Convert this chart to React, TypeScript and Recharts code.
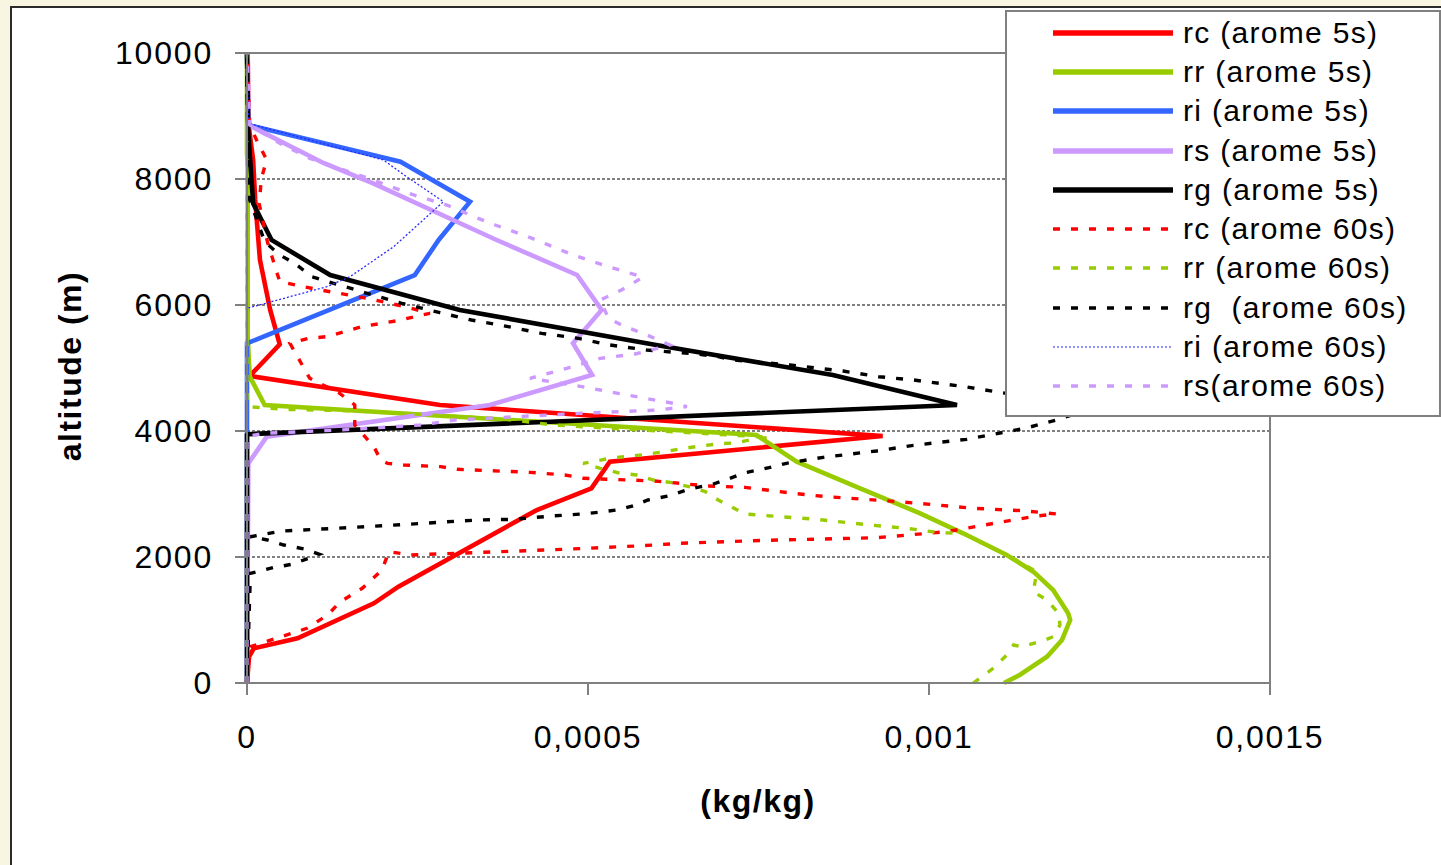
import { LineChart, Line, XAxis, YAxis, CartesianGrid, Legend, ReferenceLine } from 'recharts';

const FONT = '"Liberation Sans", Arial, sans-serif';

// each point: [altitude (m), mixing ratio in 1e-4 kg/kg]
const RC_5S: [number, number][] = [
  [0, 0], [418, 0.03], [551, 0.1], [709, 0.74], [1265, 1.86], [1529, 2.22], [2746, 4.25],
  [3090, 5.05], [3513, 5.32], [3920, 9.32], [4413, 2.83], [4873, 0.04], [5376, 0.48],
  [5921, 0.34], [6714, 0.19], [7667, 0.12], [8302, 0.09], [8884, 0.02], [10000, 0.01],
];
const RR_5S: [number, number][] = [
  [0, 11.1], [127, 11.33], [417, 11.73], [683, 11.95], [1000, 12.07], [1106, 12.04],
  [1476, 11.82], [1767, 11.53], [2032, 11.14], [2376, 10.5], [2693, 9.87], [3090, 8.99],
  [3513, 8.06], [3937, 7.47], [4413, 0.26], [4862, 0.04], [5500, 0.01], [8254, 0.01],
  [8400, 0], [10000, 0],
];
const RI_5S: [number, number][] = [
  [0, 0], [5392, 0], [6476, 2.46], [7032, 2.81], [7640, 3.27], [8275, 2.25], [8857, 0.02], [10000, 0],
];
const RS_5S: [number, number][] = [
  [0, 0], [3487, 0.02], [3910, 0.29], [4413, 3.56], [4889, 5.06], [5392, 4.78], [5921, 5.2],
  [6476, 4.84], [7032, 3.66], [7931, 1.85], [8254, 1.12], [8857, 0.02], [10000, 0.01],
];
const RG_5S: [number, number][] = [
  [0, 0], [3937, 0], [3950, 0.02], [4413, 10.41], [4889, 8.59], [5365, 6.0], [5921, 3.12],
  [6476, 1.22], [7032, 0.36], [7614, 0.09], [8725, 0.02], [10000, 0],
];
const RC_60S: [number, number][] = [
  [0, 0], [500, 0.02], [576, 0.05], [868, 0.88], [1079, 1.18], [1290, 1.37], [1503, 1.69],
  [1794, 1.98], [2084, 2.08], [2032, 2.4], [2074, 3.45], [2127, 4.76], [2180, 5.81],
  [2217, 6.35], [2265, 7.62], [2306, 9.23], [2402, 10.26], [2551, 11.04], [2651, 11.58],
  [2683, 11.87], [2735, 11.38], [2773, 10.65], [2878, 9.57], [2957, 8.5], [3011, 8.01],
  [3063, 7.62], [3106, 7.3], [3127, 6.76], [3206, 5.98], [3249, 4.93], [3302, 4.66],
  [3344, 4.15], [3392, 3.08], [3434, 2.84], [3460, 2.3], [3487, 2.06], [3540, 1.96],
  [3751, 1.86], [4095, 1.58], [4413, 1.58], [4598, 1.36], [4836, 0.92], [5392, 0.63],
  [5471, 0.9], [5497, 1.17], [5655, 1.68], [5751, 2.2], [5868, 2.68], [5973, 2.32],
  [6106, 1.76], [6249, 1.02], [6370, 0.48], [7000, 0.3], [7600, 0.18], [8010, 0.21],
  [8302, 0.29], [8619, 0.14], [8857, 0.04], [10000, 0],
];
const RR_60S: [number, number][] = [
  [0, 10.65], [233, 10.94], [444, 11.14], [603, 11.24], [576, 11.36], [683, 11.7],
  [735, 11.82], [921, 11.92], [1106, 11.9], [1317, 11.73], [1449, 11.53], [1767, 11.58],
  [2032, 11.14], [2376, 10.5], [2386, 10.16], [2455, 9.67], [2508, 9.13], [2598, 8.35],
  [2640, 7.82], [2683, 7.3], [2905, 6.91], [3037, 6.72], [3106, 6.52], [3180, 6.23],
  [3222, 5.96], [3302, 5.71], [3338, 5.44], [3408, 5.18], [3487, 4.93], [3566, 5.32],
  [3630, 5.86], [3672, 6.13], [3725, 6.4], [3794, 6.89], [3814, 7.18], [3868, 7.42],
  [3900, 7.67], [4095, 4.49], [4190, 3.78], [4322, 1.51], [4344, 0.53], [4386, 0.02],
  [4500, 0], [10000, 0],
];
const RG_60S: [number, number][] = [
  [0, 0], [1741, 0.05], [1836, 0.4], [1884, 0.66], [2043, 1.06], [2127, 0.84], [2190, 0.54],
  [2270, 0.3], [2322, 0.05], [2360, 0.25], [2413, 0.52], [2455, 1.3], [2503, 2.11],
  [2535, 2.6], [2556, 2.89], [2587, 3.38], [2598, 3.91], [2651, 4.47], [2688, 4.98],
  [2746, 5.42], [2810, 5.66], [2905, 5.88], [2968, 6.18], [3053, 6.42], [3090, 6.54],
  [3159, 6.84], [3249, 7.08], [3338, 7.3], [3397, 7.57], [3487, 7.91], [3582, 8.45],
  [3683, 9.23], [3772, 9.77], [3868, 10.55], [4043, 11.41], [4175, 11.87], [4400, 12.5],
  [4608, 11.07], [4703, 10.53], [4810, 9.77], [4862, 9.26], [4952, 8.74], [5048, 7.96],
  [5127, 7.13], [5180, 6.91], [5222, 6.59], [5286, 5.86], [5365, 5.32], [5471, 4.86],
  [5550, 4.32], [5656, 3.83], [5762, 3.29], [5878, 2.83], [6027, 2.27], [6186, 1.76],
  [6344, 1.27], [6449, 0.95], [6661, 0.7], [6794, 0.48], [7005, 0.26], [7667, 0.04],
  [8857, 0.02], [10000, 0],
];
const RI_60S: [number, number][] = [
  [0, 0], [5947, 0], [6291, 1.17], [6449, 1.51], [6925, 2.15], [7640, 2.88], [8037, 2.34],
  [8302, 2.0], [8884, 0.02], [10000, 0],
];
const RS_60S: [number, number][] = [
  [0, 0], [3910, 0], [3963, 0.24], [4016, 1.36], [4095, 2.54], [4175, 3.05], [4279, 4.86],
  [4333, 6.01], [4386, 6.45], [4439, 6.25], [4598, 5.44], [4651, 5.18], [4704, 4.91],
  [4836, 4.15], [4995, 4.69], [5153, 5.18], [5222, 5.69], [5365, 6.2], [5550, 5.81],
  [5656, 5.54], [5788, 5.3], [6080, 5.18], [6238, 5.49], [6444, 5.81], [6608, 5.3],
  [6794, 4.78], [7084, 4.12], [7270, 3.64], [7376, 3.39], [7587, 2.93], [7772, 2.37],
  [7984, 1.85], [8328, 0.92], [8567, 0.48], [8857, 0.04], [10000, 0],
];

const Y_TICKS = [0, 2000, 4000, 6000, 8000, 10000];
const X_TICKS = [0, 5, 10, 15];
const X_TICK_LABELS = ['0', '0,0005', '0,001', '0,0015'];

const DASH = '7 11';

const SERIES = [
  { name: 'rc (arome 5s)', points: RC_5S, color: '#ff0000', width: 4.6 },
  { name: 'rr (arome 5s)', points: RR_5S, color: '#99cc00', width: 4.6 },
  { name: 'ri (arome 5s)', points: RI_5S, color: '#3366ff', width: 4.6 },
  { name: 'rs (arome 5s)', points: RS_5S, color: '#cc99ff', width: 4.6 },
  { name: 'rg (arome 5s)', points: RG_5S, color: '#000000', width: 4.6 },
  { name: 'rc (arome 60s)', points: RC_60S, color: '#ff0000', width: 3.4, dash: DASH },
  { name: 'rr (arome 60s)', points: RR_60S, color: '#99cc00', width: 3.4, dash: DASH },
  { name: 'rg  (arome 60s)', points: RG_60S, color: '#000000', width: 3.4, dash: DASH },
  { name: 'ri (arome 60s)', points: RI_60S, color: '#2a2aff', width: 1.3, dash: '2 2', legendColor: '#7070ff' },
  { name: 'rs(arome 60s)', points: RS_60S, color: '#cc99ff', width: 3.4, dash: DASH },
];

const toRows = (pts: [number, number][]) => pts.map(([alt, x]) => ({ alt, x }));

function LegendBox() {
  return (
    <div
      style={{
        width: 436,
        height: 407,
        boxSizing: 'border-box',
        border: '2px solid #808080',
        background: '#fff',
        paddingTop: 1,
        fontFamily: FONT,
      }}
    >
      {SERIES.map((s) => (
        <div key={s.name} style={{ height: 39.3, display: 'flex', alignItems: 'center' }}>
          <svg width={120} height={8} style={{ marginLeft: 46, flex: 'none' }}>
            <line
              x1={0}
              y1={4}
              x2={120}
              y2={4}
              stroke={s.legendColor ?? s.color}
              strokeWidth={s.dash ? (s.width < 2 ? 1.5 : 3.3) : 5.5}
              strokeDasharray={s.dash}
            />
          </svg>
          <span style={{ marginLeft: 10, fontSize: 30, letterSpacing: 1.3, whiteSpace: 'pre', lineHeight: 1, color: '#000' }}>
            {s.name}
          </span>
        </div>
      ))}
    </div>
  );
}

const yTitle = () => (
  <text
    x={81}
    y={366}
    transform="rotate(-90 81 366)"
    textAnchor="middle"
    fontSize={32}
    fontWeight="bold"
    fontFamily={FONT}
    letterSpacing={1.5}
    fill="#000"
  >
    altitude (m)
  </text>
);

const xTitle = () => (
  <text x={758} y={812} textAnchor="middle" fontSize={32} fontWeight="bold" fontFamily={FONT} letterSpacing={1.5} fill="#000">
    (kg/kg)
  </text>
);

export default function App() {
  return (
    <div style={{ position: 'absolute', left: 0, top: 0, width: 1441, height: 865, overflow: 'hidden', background: '#f8f5e1' }}>
      <div
        style={{
          position: 'absolute',
          left: 10,
          top: 6,
          width: 1441,
          height: 870,
          background: '#fff',
          borderTop: '2px solid #2b2b2b',
          borderLeft: '2px solid #2b2b2b',
        }}
      />
      <div style={{ position: 'absolute', left: 0, top: 0 }}>
        <LineChart width={1441} height={865} margin={{ top: 53, right: 171, bottom: 52, left: 0 }}>
          <CartesianGrid vertical={false} stroke="#000" strokeDasharray="3 2" strokeWidth={1} />
          <XAxis
            type="number"
            dataKey="x"
            domain={[0, 15]}
            ticks={X_TICKS}
            tickFormatter={(_v: number, i: number) => X_TICK_LABELS[i]}
            height={130}
            tickSize={12}
            tickMargin={30}
            stroke="#808080"
            strokeWidth={2}
            tick={{ fontSize: 32, fill: '#000', fontFamily: FONT, letterSpacing: 1.8 }}
            label={xTitle}
          />
          <YAxis
            type="number"
            dataKey="alt"
            domain={[0, 10000]}
            ticks={Y_TICKS}
            width={247}
            tickSize={12}
            tickMargin={22}
            stroke="#808080"
            strokeWidth={2}
            tick={{ fontSize: 32, fill: '#000', fontFamily: FONT, letterSpacing: 1.8 }}
            label={yTitle}
          />
          <ReferenceLine y={10000} stroke="#808080" strokeWidth={2} />
          <ReferenceLine x={15} stroke="#808080" strokeWidth={2} />
          {SERIES.map((s) => (
            <Line
              key={s.name}
              name={s.name}
              data={toRows(s.points)}
              dataKey="alt"
              stroke={s.color}
              strokeWidth={s.width}
              strokeDasharray={s.dash}
              dot={false}
              activeDot={false}
              isAnimationActive={false}
            />
          ))}
          <Legend
            layout="vertical"
            align="center"
            verticalAlign="middle"
            wrapperStyle={{ left: 1005, top: 10, width: 436, height: 407 }}
            content={() => <LegendBox />}
          />
        </LineChart>
      </div>
    </div>
  );
}
